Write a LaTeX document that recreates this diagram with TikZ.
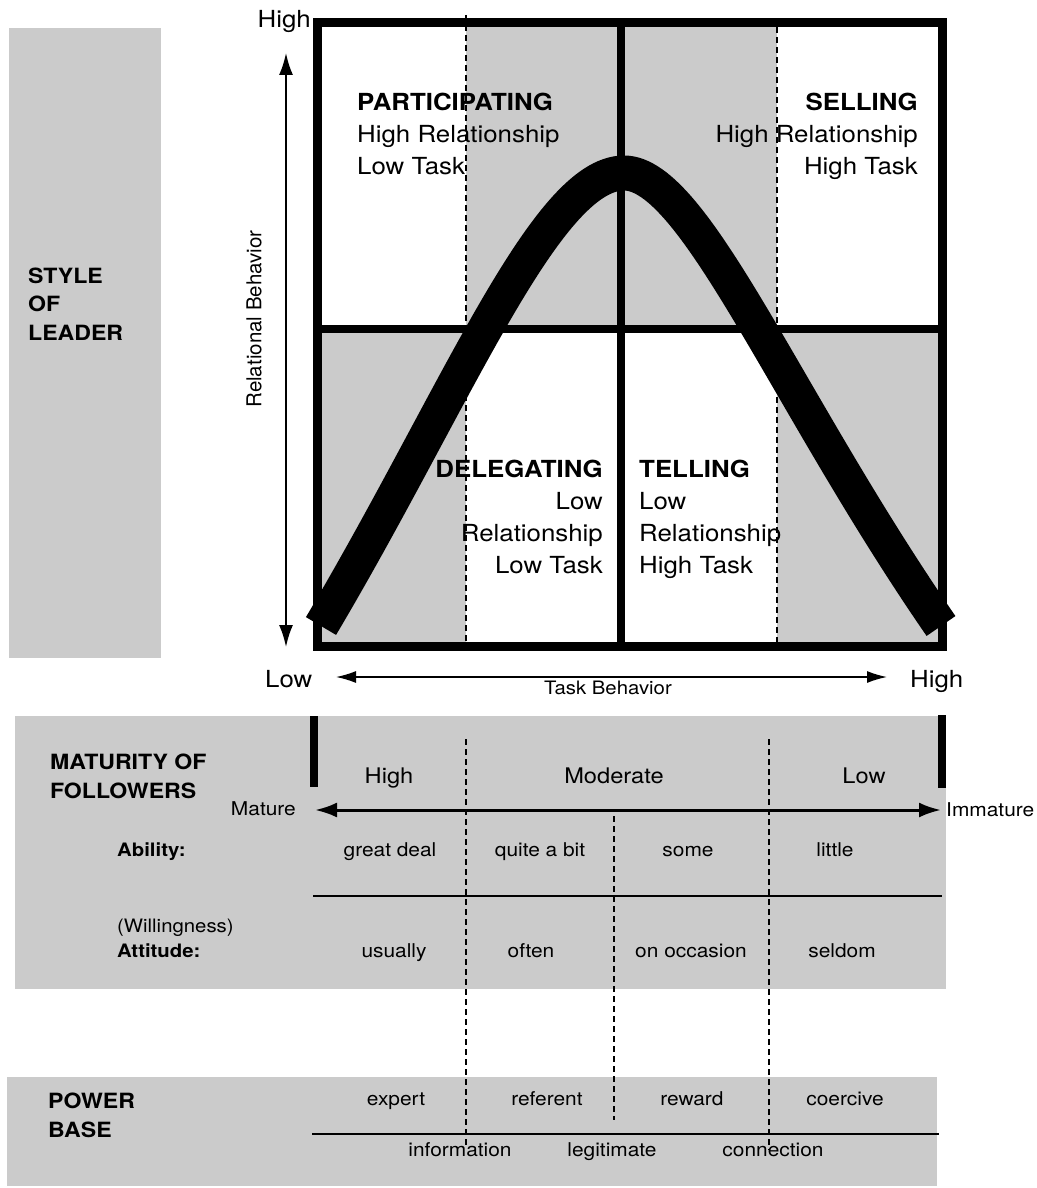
\documentclass[tikz,border=0pt]{standalone}
\usepackage{fontspec}
\setmainfont{TeX Gyre Heros}[FakeStretch=1.1]
\newfontfamily\plainfont{TeX Gyre Heros}
\usetikzlibrary{arrows.meta}
\definecolor{panelgray}{RGB}{203,203,203}
\tikzset{
	gridline/.style={line width=9pt},
	midline/.style={line width=8pt},
	bar/.style={line width=8pt},
	rule/.style={line width=1.6pt},
	dashline/.style={line width=1.5pt, dash pattern=on 6pt off 4pt},
	curve/.style={line width=35pt, line cap=butt},
	quad/.style={align=left, font=\fontsize{23.5}{31.8}\selectfont},
	axis/.style={font=\fontsize{23.5}{28}\selectfont},
	head/.style={anchor=base west, align=left, font=\fontsize{21}{28.5}\selectfont\bfseries},
	level/.style={anchor=base, font=\fontsize{21.5}{26}\selectfont},
	cell/.style={anchor=base, font=\fontsize{19}{23}\selectfont},
	rowlabel/.style={anchor=base west, align=left, font=\fontsize{18.5}{25}\selectfont}
}

\begin{document}
\begin{tikzpicture}[x=1pt, y=-1pt, every node/.style={inner sep=0pt},
	relarrow/.style={line width=2pt, {Latex[length=22pt,width=14pt]}-{Latex[length=22pt,width=14pt]}},
	taskarrow/.style={line width=1.5pt, {Latex[length=20pt,width=12pt]}-{Latex[length=20pt,width=12pt]}},
	matarrow/.style={line width=3pt, {Latex[length=22pt,width=15pt]}-{Latex[length=22pt,width=15pt]}}]
	\useasboundingbox (0,0) rectangle (1036,1188);

	% --- panels ---
	\fill[panelgray] (9,28) rectangle (161,658);
	\fill[panelgray] (15,716) rectangle (946,989);
	\fill[panelgray] (7,1077) rectangle (937,1186);

	% --- grid ---
	\fill[panelgray] (466,22) rectangle (777,329);
	\fill[panelgray] (317,329) rectangle (466,647);
	\fill[panelgray] (777,329) rectangle (942,647);

	\draw[dashline] (466,15) -- (466,642);
	\draw[dashline] (777,27) -- (777,642);
	\draw[dashline] (466,739) -- (466,1147);
	\draw[dashline] (769,739) -- (769,1150);
	\draw[dashline] (614,816) -- (614,1120);

	\draw[curve] (321,626) .. controls (455,400) and (545,173) .. (624,173)
		.. controls (695,173) and (785,400) .. (941,626);

	\draw[gridline] (317.5,22.5) rectangle (942.5,646.5);
	\draw[midline] (317,329) -- (942,329);
	\draw[midline] (621,22) -- (621,647);

	% base anchor = last line
	\node[quad, anchor=base west] (participating) at (357,174) {\textbf{PARTICIPATING}\\High Relationship\\Low Task};
	\node[quad, anchor=base east, align=right] (selling) at (918,174) {\textbf{SELLING}\\High Relationship\\High Task};
	\node[quad, anchor=base east, align=right] (delegating) at (603,573) {\textbf{DELEGATING}\\Low\\Relationship\\Low Task};
	\node[quad, anchor=base west] (telling) at (639,573) {\textbf{TELLING}\\Low\\Relationship\\High Task};

	% --- axes ---
	\node[axis, anchor=base east] (relhigh) at (311,28) {High};
	\node[axis, anchor=base west] (tasklow) at (265,687) {Low};
	\node[axis, anchor=base west] (taskhigh) at (910,687) {High};
	\node[rotate=90, font=\plainfont\fontsize{20.5}{24}\selectfont] (rellabel) at (254,319) {Relational Behavior};
	\node[anchor=base, font=\fontsize{18.5}{22}\selectfont] (tasklabel) at (608,694) {Task Behavior};

	\coordinate (relbot) at (286,647);
	\coordinate (reltop) at (286,53);
	\coordinate (taskleft) at (336,677);
	\coordinate (taskright) at (887,677);
	\draw[relarrow] (relbot) -- (reltop);
	\draw[taskarrow] (taskleft) -- (taskright);

	\node[head] (styleleader) at (28,340) {STYLE\\OF\\LEADER};

	% --- maturity ---
	\node[head] (maturity) at (50,798) {MATURITY OF\\FOLLOWERS};
	\draw[bar] (314,716) -- (314,787);
	\draw[bar] (942,715) -- (942,788);
	\node[level] (mathigh) at (389,783) {High};
	\node[level] (matmoderate) at (614,783) {Moderate};
	\node[level] (matlow) at (864,783) {Low};

	\coordinate (matleft) at (315,810);
	\coordinate (matright) at (941,810);
	\draw[matarrow] (matleft) -- (matright);
	\node[cell, anchor=base east] (mature) at (296,815) {Mature};
	\node[cell, anchor=base west] (immature) at (946,816) {Immature};

	\node[rowlabel] (ability) at (117,856) {\textbf{Ability:}};
	\node[cell] (greatdeal) at (390,856) {great deal};
	\node[cell] (quitebit) at (540,856) {quite a bit};
	\node[cell] (some) at (688,856) {some};
	\node[cell] (little) at (835,856) {little};

	\draw[rule] (313,896) -- (942,896);

	\node[rowlabel] (attitude) at (117,957) {(Willingness)\\\textbf{Attitude:}};
	\node[cell] (usually) at (394,957) {usually};
	\node[cell] (often) at (531,957) {often};
	\node[cell] (occasion) at (691,957) {on occasion};
	\node[cell] (seldom) at (842,957) {seldom};

	% --- power base ---
	\node[head] (powerbase) at (48,1137) {POWER\\BASE};
	\node[cell] (expert) at (396,1105) {expert};
	\node[cell] (referent) at (547,1105) {referent};
	\node[cell] (reward) at (692,1105) {reward};
	\node[cell] (coercive) at (845,1105) {coercive};
	\draw[rule] (312,1134) -- (939,1134);
	\node[cell] (information) at (460,1156) {information};
	\node[cell] (legitimate) at (612,1156) {legitimate};
	\node[cell] (connection) at (773,1156) {connection};

\end{tikzpicture}
\end{document}
